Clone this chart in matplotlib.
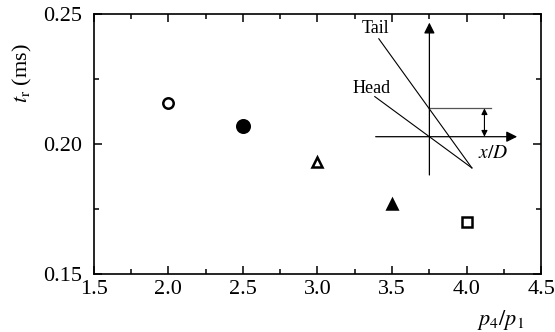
import matplotlib
matplotlib.use("Agg")
import matplotlib.pyplot as plt
from matplotlib.ticker import MultipleLocator

# data
pressure_ratio = [2.0, 2.5, 3.0, 3.5, 4.0]
rise_time = [0.216, 0.207, 0.193, 0.177, 0.170]
markers = ['o', 'o', '^', '^', 's']
filled = [False, True, False, True, False]
sizes = [7.5, 9, 7, 7.5, 6.5]

plt.rcParams['font.family'] = ['Liberation Serif', 'DejaVu Serif']
plt.rcParams['mathtext.fontset'] = 'stix'

fig = plt.figure(figsize=(5.55, 3.32), dpi=100)
ax = fig.add_axes([0.1688, 0.1732, 0.8065, 0.7846])

for x, y, m, f, s in zip(pressure_ratio, rise_time, markers, filled, sizes):
    ax.plot(x, y, marker=m, linestyle='none', markersize=s,
            markerfacecolor='black' if f else 'white',
            markeredgecolor='black', markeredgewidth=1.8)

ax.set_xlim(1.5, 4.5)
ax.set_ylim(0.15, 0.25)
ax.xaxis.set_major_locator(MultipleLocator(0.5))
ax.xaxis.set_minor_locator(MultipleLocator(0.25))
ax.yaxis.set_major_locator(MultipleLocator(0.05))
ax.yaxis.set_minor_locator(MultipleLocator(0.025))
ax.xaxis.set_major_formatter(plt.FuncFormatter(lambda v, p: '%.1f' % v))
ax.yaxis.set_major_formatter(plt.FuncFormatter(lambda v, p: '%.2f' % v))

ax.tick_params(which='both', direction='in', top=True, right=True, width=1.1)
ax.tick_params(which='major', length=6, labelsize=16)
ax.tick_params(which='minor', length=3.5)
ax.tick_params(axis='y', pad=8)
ax.tick_params(axis='x', pad=4)
for sp in ax.spines.values():
    sp.set_linewidth(1.2)

ax.set_ylabel(r'$t_\mathrm{r}$ (ms)', fontsize=16, va='center')
ax.yaxis.set_label_coords(-0.16, 0.775)
ax.set_xlabel(r'$p_4/p_1$', fontsize=16, va='center')
ax.xaxis.set_label_coords(0.908, -0.175)

# inset schematic of the wave diagram (axes fraction)
tr = ax.transAxes
ax.annotate('', xy=(0.750, 0.967), xytext=(0.750, 0.382), xycoords=tr,
            arrowprops=dict(arrowstyle='-|>', color='black', lw=0.9,
                            mutation_scale=16, shrinkA=0, shrinkB=0))
ax.annotate('', xy=(0.946, 0.529), xytext=(0.630, 0.529), xycoords=tr,
            arrowprops=dict(arrowstyle='-|>', color='black', lw=0.9,
                            mutation_scale=16, shrinkA=0, shrinkB=0))
ax.plot([0.637, 0.845], [0.905, 0.409], color='black', lw=0.8, transform=tr)
ax.plot([0.628, 0.845], [0.683, 0.409], color='black', lw=0.8, transform=tr)
ax.plot([0.750, 0.888], [0.638, 0.638], color='#555555', lw=0.9, transform=tr)
ax.annotate('', xy=(0.873, 0.638), xytext=(0.873, 0.529), xycoords=tr,
            arrowprops=dict(arrowstyle='<|-|>', color='black', lw=0.8,
                            mutation_scale=9, shrinkA=0, shrinkB=0))
ax.text(0.630, 0.945, 'Tail', transform=tr, ha='center', va='center', fontsize=13)
ax.text(0.621, 0.714, 'Head', transform=tr, ha='center', va='center', fontsize=13)
ax.text(0.893, 0.465, r'$x/D$', transform=tr, ha='center', va='center', fontsize=14)

fig.savefig('out.png', dpi=100)
